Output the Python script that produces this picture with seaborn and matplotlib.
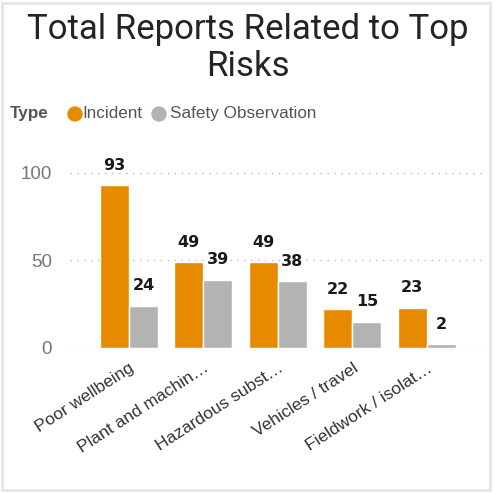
import matplotlib
matplotlib.use("Agg")
import matplotlib.pyplot as plt
import seaborn as sns
import pandas as pd
from matplotlib.patches import Rectangle, Circle

categories = ["Poor wellbeing", "Plant and machin\u2026", "Hazardous subst\u2026",
              "Vehicles / travel", "Fieldwork / isolat\u2026"]
incident = [93, 49, 49, 22, 23]
safety_obs = [24, 39, 38, 15, 2]
types = ["Incident", "Safety Observation"]
yticks = [0, 50, 100]

colors = {"Incident": "#E88A00", "Safety Observation": "#B3B3B3"}

df = pd.DataFrame({
    "Risk": categories * 2,
    "Type": [types[0]] * len(categories) + [types[1]] * len(categories),
    "Reports": incident + safety_obs,
})

sns.set_style("white")
plt.rcParams['font.family'] = ['Liberation Sans', 'DejaVu Sans']

fig = plt.figure(figsize=(4.95, 4.93), dpi=100)
ax = fig.add_axes([70/495, 1-348/493, (482-70)/495, (348-150)/493])

sns.barplot(data=df, x="Risk", y="Reports", hue="Type", order=categories,
            hue_order=types, palette=colors, width=0.78, ax=ax, legend=False,
            saturation=1)

for cont in ax.containers:
    ax.bar_label(cont, padding=9, fontsize=11.5, fontweight="bold",
                 color="#1a1a1a", family="DejaVu Sans")

ax.set_xlim(-0.79, 4.74)
ax.set_ylim(0, 113)
ax.set_yticks(yticks)
ax.set_yticklabels([str(v) for v in yticks], fontsize=13.5, color="#777777")
ax.tick_params(axis="y", length=0, pad=13)
ax.tick_params(axis="x", length=0, pad=9)
ax.set_xticks(range(len(categories)))
ax.set_xticklabels(categories, rotation=33, ha="right", rotation_mode="anchor",
                   fontsize=12.5, color="#333333")
ax.set_xlabel("")
ax.set_ylabel("")
for s in ax.spines.values():
    s.set_visible(False)
ax.yaxis.grid(True, linestyle=(0, (1, 4)), color="#bbbbbb", linewidth=1)
ax.set_axisbelow(True)

# Title
fig.text(0.5, 1-30/493, "Total Reports Related to Top", ha="center", va="center",
         fontsize=25, color="#252423", family="Roboto")
fig.text(0.5, 1-66/493, "Risks", ha="center", va="center",
         fontsize=25, color="#252423", family="Roboto")

# Legend
ly = 1-113/493
fig.text(10/495, ly, "Type", ha="left", va="center", fontsize=12.3,
         fontweight="bold", color="#555555")
fig.patches.append(Circle((75/495, ly - 1/493), 7/495, transform=fig.transFigure,
                          color=colors["Incident"], figure=fig))
fig.text(82/495, ly, "Incident", ha="left", va="center", fontsize=12.3, color="#555555")
fig.patches.append(Circle((159/495, ly - 1/493), 7/495, transform=fig.transFigure,
                          color=colors["Safety Observation"], figure=fig))
fig.text(170/495, ly, "Safety Observation", ha="left", va="center", fontsize=12.3,
         color="#555555")

# Card border
fig.patches.append(Rectangle((2/495, 3/493), 488/495, 487/493, transform=fig.transFigure,
                             fill=False, edgecolor="#e6e6e6", linewidth=2, figure=fig))

fig.savefig("out.png", dpi=100)
